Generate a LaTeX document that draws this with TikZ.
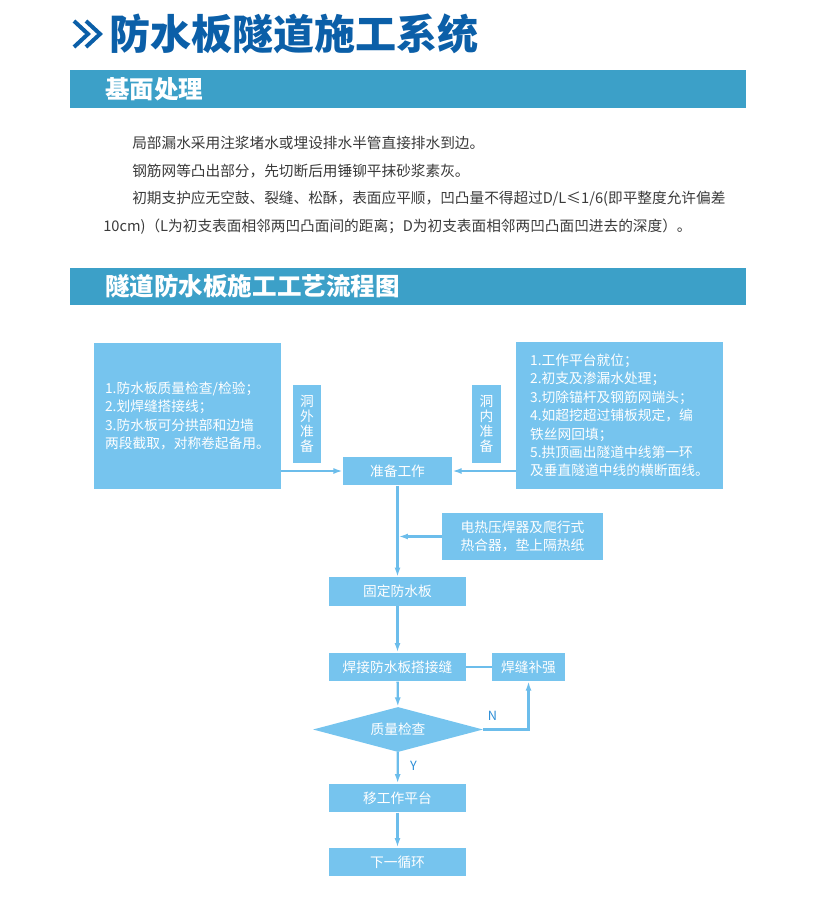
\documentclass[tikz,border=0pt]{standalone}
\usepackage{fontspec}
\setmainfont{Noto Sans CJK SC}
\usetikzlibrary{arrows.meta,shapes.geometric}
\definecolor{titleblue}{HTML}{0B5FA8}
\definecolor{barblue}{HTML}{3CA0C8}
\definecolor{boxblue}{HTML}{76C4EE}
\definecolor{lineblue}{HTML}{6CBDEB}
\definecolor{labelblue}{HTML}{2B8DD6}
\definecolor{bodygray}{HTML}{3A3A3A}
\tikzset{
	box/.style={fill=boxblue, text=white, inner sep=0pt, font=\fontsize{10.3}{13.8}\selectfont},
	mainbox/.style={box, minimum width=102.75pt, minimum height=21.5pt},
	sidebox/.style={box, minimum width=21.5pt, minimum height=58.5pt, align=center, font=\fontsize{10.3}{11.3}\selectfont},
	flow/.style={draw=lineblue, line width=1.7pt, -{Latex[length=7pt,width=4.5pt]}},
	link/.style={draw=lineblue, line width=1.7pt},
	headtext/.style={text=white, font=\fontsize{18.4}{20}\selectfont\bfseries, inner sep=0pt, anchor=west},
	bodytext/.style={text=bodygray, font=\fontsize{11}{14}\selectfont, inner sep=0pt, anchor=west},
	yn/.style={text=labelblue, font=\fontsize{9.5}{10}\selectfont, inner sep=0pt}
}
\begin{document}
\begin{tikzpicture}[x=0.75pt,y=-0.75pt]
	\useasboundingbox (0,0) rectangle (822,902);
	\draw[titleblue, line width=3pt] (74,21) -- (88,34) -- (74,47) (86,21) -- (100,34) -- (86,47);
	\node[anchor=west, text=titleblue, font=\fontsize{30.8}{32}\selectfont\bfseries, inner sep=0pt] (title) at (109,34) {防水板隧道施工系统};

	\fill[barblue] (70,70) rectangle (746,108);
	\node[headtext] (base) at (105,89) {基面处理};
	\node[bodytext] (p1) at (132,143) {局部漏水采用注浆堵水或埋设排水半管直接排水到边。};
	\node[bodytext] (p2) at (132,171) {钢筋网等凸出部分，先切断后用锤铆平抹砂浆素灰。};
	\node[bodytext] (p3) at (132,199) {初期支护应无空鼓、裂缝、松酥，表面应平顺，凹凸量不得超过D/L≤1/6(即平整度允许偏差};
	\node[bodytext] (p4) at (103,227) {10cm)（L为初支表面相邻两凹凸面间的距离；D为初支表面相邻两凹凸面凹进去的深度）。};

	\fill[barblue] (70,268) rectangle (746,305);
	\node[headtext] (flowhead) at (105,286.5) {隧道防水板施工工艺流程图};

	\node[box, minimum width=140.25pt, minimum height=109.5pt, align=left] (outside) at (187.5,416) {1.防水板质量检查/检验；\\2.划焊缝搭接线；\\3.防水板可分拱部和边墙\\两段截取，对称卷起备用。};
	\node[sidebox] (outlabel) at (307,424) {洞\\外\\准\\备};
	\node[box, minimum width=155.25pt, minimum height=110.25pt, align=left] (inside) at (619.5,415.5) {1.工作平台就位；\\2.初支及渗漏水处理；\\3.切除锚杆及钢筋网端头；\\4.如超挖超过铺板规定，编\\铁丝网回填；\\5.拱顶画出隧道中线第一环\\及垂直隧道中线的横断面线。};
	\node[sidebox] (inlabel) at (486.5,424) {洞\\内\\准\\备};
	\node[mainbox, minimum width=81.75pt] (prep) at (397.5,471) {准备工作};
	\node[box, minimum width=120.75pt, minimum height=35.25pt, align=center] (tool) at (522.5,536.5) {电热压焊器及爬行式\\热合器，垫上隔热纸};
	\node[mainbox] (fix) at (397.5,591.5) {固定防水板};
	\node[mainbox] (weld) at (397.5,667) {焊接防水板搭接缝};
	\node[box, minimum width=54.75pt, minimum height=21pt] (repair) at (528.5,667) {焊缝补强};
	\node[box, diamond, aspect=3.8, minimum width=127.5pt, minimum height=33.75pt] (check) at (398,729.5) {质量检查};
	\node[mainbox] (move) at (397.5,798) {移工作平台};
	\node[mainbox] (next) at (397.5,862) {下一循环};

	\draw[flow] (outside.east |- prep.west) -- (prep.west);
	\draw[flow] (inside.west |- prep.east) -- (prep.east);
	\draw[flow] (prep) -- (fix);
	\draw[flow, shorten >=0.85pt] (tool.west) -- (tool.west -| fix.north);
	\draw[flow] (fix) -- (weld);
	\draw[link] (weld) -- (repair);
	\draw[flow] (weld) -- (check);
	\draw[flow] (check.east) -| (repair.south);
	\draw[flow] (check) -- (move);
	\draw[flow] (move) -- (next);
	\node[yn] (no) at (492.5,715.5) {N};
	\node[yn] (yes) at (413.5,765.5) {Y};
\end{tikzpicture}
\end{document}
